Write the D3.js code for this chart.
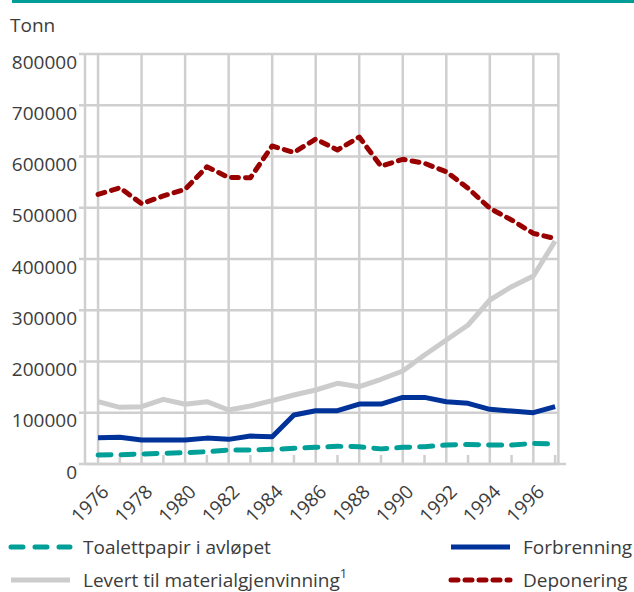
<!DOCTYPE html>
<html>
<head>
<meta charset="utf-8">
<script src="https://cdn.jsdelivr.net/npm/d3@7"></script>
<style>
  body { margin: 0; background: #fff; }
  svg { display: block; font-family: "Open Sans", sans-serif; }
</style>
</head>
<body>
<div id="chart"></div>
<script>
var years = d3.range(1976, 1998);
var yTicks = [0, 100000, 200000, 300000, 400000, 500000, 600000, 700000, 800000];
var xLabels = [1976, 1978, 1980, 1982, 1984, 1986, 1988, 1990, 1992, 1994, 1996];

// Tonn per year
var toalettpapir = [17600, 18200, 19500, 20800, 22100, 24000, 27300, 27300, 28600, 30600, 32500, 34500,
                    33800, 29500, 32500, 33800, 37000, 38000, 37000, 37000, 40000, 39000];
var levert = [121600, 110500, 111800, 126200, 116500, 121600, 105400, 113200, 123600, 134600, 144400, 157400,
              150800, 165300, 181500, 212700, 242000, 271200, 320000, 346000, 366800, 435000];
var forbrenning = [51400, 52000, 46800, 46800, 46800, 50500, 48100, 54600, 53300, 95600, 104000, 104000,
                   117000, 117000, 130000, 130000, 121600, 118400, 106700, 103400, 100200, 111800];
var deponering = [526000, 539000, 508000, 523000, 536000, 580000, 559000, 558600, 620500, 608000, 634000, 612700,
                  638000, 581000, 594500, 586700, 570300, 538000, 499000, 476000, 450000, 440000];

var seriesNames = ["Toalettpapir i avløpet", "Levert til materialgjenvinning", "Forbrenning", "Deponering"];

var W = 634, H = 592;
var svg = d3.select("#chart").append("svg").attr("width", W).attr("height", H);

var x = d3.scaleLinear().domain([1975.4, 1997.5]).range([85, 566]);
var y = d3.scaleLinear().domain([0, 800000]).range([464, 54]);
var plotRight = x(1997.15);
var grid = "#cfcfcf", textCol = "#3c3c3c";

// top bar
svg.append("rect").attr("x", 12).attr("y", 0).attr("width", W - 12).attr("height", 3).attr("fill", "#009c95");

svg.append("text").attr("x", 10).attr("y", 32).attr("fill", textCol)
  .style("font-size", "19px").text("Tonn");

// horizontal gridlines + y labels
var gy = svg.append("g");
gy.selectAll("line").data(yTicks).enter().append("line")
  .attr("x1", 79).attr("x2", plotRight)
  .attr("y1", function(d) { return y(d); }).attr("y2", function(d) { return y(d); })
  .attr("stroke", grid).attr("stroke-width", 2.5);
gy.selectAll("text").data(yTicks).enter().append("text")
  .attr("x", 77).attr("y", function(d) { return y(d) + 14.5; })
  .attr("text-anchor", "end").attr("fill", textCol)
  .style("font-size", "19px").text(function(d) { return d; });

// vertical gridlines (even years), small ticks (odd years)
var gx = svg.append("g");
gx.selectAll("line.v").data(xLabels).enter().append("line").attr("class", "v")
  .attr("x1", function(d) { return x(d); }).attr("x2", function(d) { return x(d); })
  .attr("y1", y(800000)).attr("y2", y(0))
  .attr("stroke", grid).attr("stroke-width", 2.5);
gx.selectAll("line.t").data(years.filter(function(d) { return d % 2 === 1; })).enter().append("line").attr("class", "t")
  .attr("x1", function(d) { return x(d); }).attr("x2", function(d) { return x(d); })
  .attr("y1", y(0) - 9).attr("y2", y(0))
  .attr("stroke", grid).attr("stroke-width", 2.5);
// left axis, right edge, baseline
gx.append("line").attr("x1", x(1975.4)).attr("x2", x(1975.4)).attr("y1", y(800000) - 1).attr("y2", y(0))
  .attr("stroke", grid).attr("stroke-width", 2.5);
gx.append("line").attr("x1", plotRight).attr("x2", plotRight).attr("y1", y(800000) - 1).attr("y2", y(0))
  .attr("stroke", grid).attr("stroke-width", 2.5);
gx.append("line").attr("x1", x(1975.4)).attr("x2", x(1997.5)).attr("y1", y(0)).attr("y2", y(0))
  .attr("stroke", grid).attr("stroke-width", 2.5);

gx.selectAll("text").data(xLabels).enter().append("text")
  .attr("transform", function(d) { return "translate(" + (x(d) + 12) + "," + (y(0) + 29) + ") rotate(-45)"; })
  .attr("text-anchor", "end").attr("fill", textCol)
  .style("font-size", "19px").text(function(d) { return d; });

// lines
var styles = [
  { data: toalettpapir, color: "#00a098", dash: "13,10" },
  { data: levert, color: "#cccccc", dash: null },
  { data: forbrenning, color: "#003399", dash: null },
  { data: deponering, color: "#990000", dash: "7,7" }
];
var line = d3.line().x(function(d, i) { return x(years[i]); }).y(function(d) { return y(d); });
var order = [1, 0, 2, 3];
order.forEach(function(k) {
  var s = styles[k];
  svg.append("path").datum(s.data)
    .attr("d", line)
    .attr("fill", "none").attr("stroke", s.color).attr("stroke-width", 5)
    .attr("stroke-linecap", s.dash ? "round" : "butt").attr("stroke-linejoin", "round")
    .attr("stroke-dasharray", s.dash);
});

// legend
var legendPos = [[8, 547], [8, 580], [448, 547], [448, 580]];
var lg = svg.append("g");
legendPos.forEach(function(p, k) {
  var s = styles[k];
  lg.append("line").attr("x1", p[0] + 3).attr("x2", p[0] + 62).attr("y1", p[1]).attr("y2", p[1])
    .attr("stroke", s.color).attr("stroke-width", 5)
    .attr("stroke-linecap", s.dash ? "round" : "butt")
    .attr("stroke-dasharray", k === 0 ? "12,12" : (k === 3 ? "7,7" : null));
  var t = lg.append("text").attr("x", p[0] + 75).attr("y", p[1] + 7).attr("fill", textCol)
    .style("font-size", "19px").text(seriesNames[k]);
  if (k === 1) {
    t.append("tspan").attr("dy", -9).style("font-size", "13px").text("1");
  }
});
</script>
</body>
</html>
